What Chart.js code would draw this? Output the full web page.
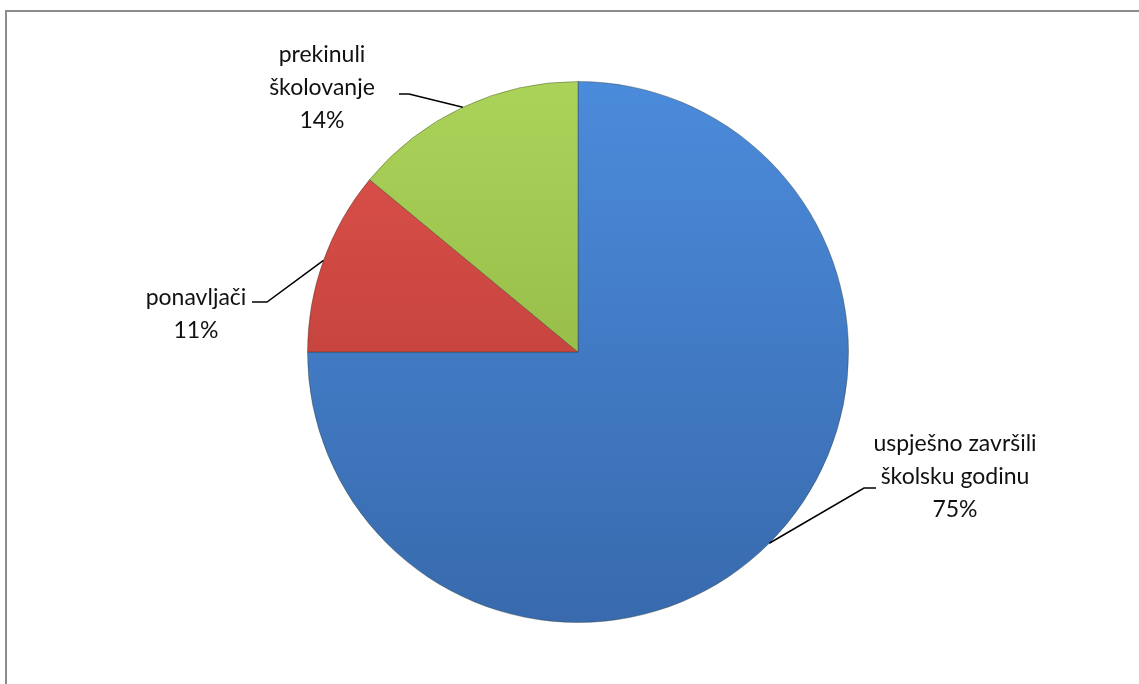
<!DOCTYPE html>
<html>
<head>
<meta charset="utf-8">
<script src="https://cdn.jsdelivr.net/npm/chart.js@4.4.1/dist/chart.umd.min.js"></script>
<style>
    body { margin: 0; overflow: hidden; background: #fff; }
    #frame { position: absolute; left: 5px; top: 10px; width: 1200px; height: 800px; border: 2px solid #8c8c8c; }
    #wrap { position: absolute; left: 0; top: 0; width: 1139px; height: 684px; }
</style>
</head>
<body>
<div id="frame"></div>
<div id="wrap"><canvas id="myChart"></canvas></div>
<script>
var categories = [['uspješno završili', 'školsku godinu'], ['ponavljači'], ['prekinuli', 'školovanje']];
var shares = [75, 11, 14];
var percentLabels = ['75%', '11%', '14%'];
var topColors = ['#4b8bdb', '#de524b', '#abd35a'];
var bottomColors = ['#386aad', '#b23833', '#86aa39'];

// where each label sits: text centre, first line y, leader elbow
var labelSpots = [
    { x: 955, y: 444, lineY: 488, textEdge: 876, elbow: 864 },
    { x: 196, y: 298, lineY: 302, textEdge: 252, elbow: 267 },
    { x: 322, y: 55, lineY: 94, textEdge: 399, elbow: 409 }
];
var lineGap = 33;

function sliceFill(context) {
    var chart = context.chart;
    var area = chart.chartArea;
    if (!area) return topColors[context.dataIndex];
    var g = chart.ctx.createLinearGradient(0, area.top, 0, area.bottom);
    g.addColorStop(0, topColors[context.dataIndex]);
    g.addColorStop(1, bottomColors[context.dataIndex]);
    return g;
}

var calloutPlugin = {
    id: 'callouts',
    afterDraw: function(chart) {
        var ctx = chart.ctx;
        var meta = chart.getDatasetMeta(0);
        ctx.save();
        ctx.font = '23px Lato';
        ctx.fillStyle = '#111';
        ctx.textAlign = 'center';
        ctx.textBaseline = 'middle';
        meta.data.forEach(function(arc, i) {
            var p = arc.getProps(['x', 'y', 'startAngle', 'endAngle', 'outerRadius'], true);
            var mid = (p.startAngle + p.endAngle) / 2;
            var ax = p.x + Math.cos(mid) * p.outerRadius;
            var ay = p.y + Math.sin(mid) * p.outerRadius;
            var s = labelSpots[i];
            ctx.beginPath();
            ctx.strokeStyle = '#000';
            ctx.lineWidth = 1.5;
            ctx.moveTo(s.textEdge, s.lineY);
            ctx.lineTo(s.elbow, s.lineY);
            ctx.lineTo(ax, ay);
            ctx.stroke();
            var lines = categories[i].concat([percentLabels[i]]);
            lines.forEach(function(t, k) {
                ctx.fillText(t, s.x, s.y + k * lineGap);
            });
        });
        ctx.restore();
    }
};

var chart = new Chart(document.getElementById('myChart'), {
    type: 'pie',
    data: {
        labels: categories.map(function(c) { return c.join(' '); }),
        datasets: [{
            data: shares,
            backgroundColor: sliceFill,
            borderColor: 'rgba(40,50,30,0.35)',
            borderWidth: 1
        }]
    },
    options: {
        responsive: true,
        maintainAspectRatio: false,
        animation: false,
        layout: { padding: { left: 307, right: 290, top: 81, bottom: 61 } },
        plugins: {
            legend: { display: false },
            tooltip: { enabled: false }
        }
    },
    plugins: [calloutPlugin]
});
</script>
</body>
</html>
